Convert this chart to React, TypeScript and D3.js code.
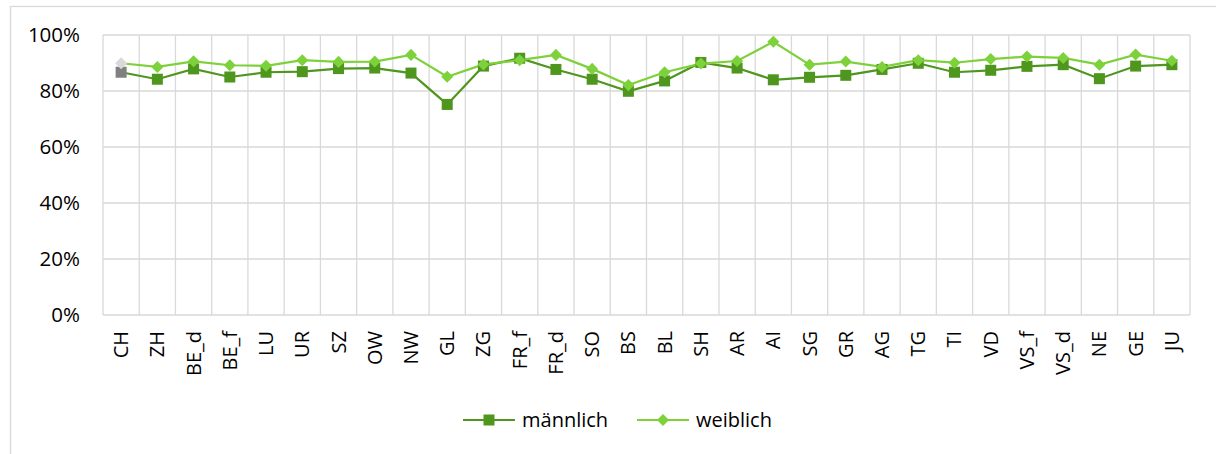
import React, { useEffect, useRef } from 'react';
import * as d3 from 'd3';

const cantons: string[] = [
    'CH', 'ZH', 'BE_d', 'BE_f', 'LU', 'UR', 'SZ', 'OW', 'NW', 'GL', 'ZG', 'FR_f', 'FR_d', 'SO', 'BS',
    'BL', 'SH', 'AR', 'AI', 'SG', 'GR', 'AG', 'TG', 'TI', 'VD', 'VS_f', 'VS_d', 'NE', 'GE', 'JU',
];

// share in %
const maennlich: number[] = [
    86.7, 84.2, 87.9, 85.0, 86.7, 86.9, 88.0, 88.2, 86.4, 75.2, 88.9, 91.7, 87.7, 84.2, 79.9,
    83.6, 90.2, 88.2, 84.0, 84.9, 85.6, 87.7, 89.9, 86.7, 87.4, 88.8, 89.4, 84.4, 88.9, 89.4,
];
const weiblich: number[] = [
    89.9, 88.6, 90.6, 89.2, 89.0, 91.0, 90.4, 90.5, 92.9, 85.1, 89.5, 91.0, 92.9, 87.9, 82.1,
    86.7, 89.8, 90.7, 97.6, 89.4, 90.5, 88.6, 91.0, 90.1, 91.4, 92.3, 91.8, 89.4, 93.0, 90.8,
];
const yTicks: number[] = [0, 20, 40, 60, 80, 100];

const W = 1216;
const H = 454;
const FONT = '"Open Sans", sans-serif';
const GRID = '#d9d9d9';
const MALE = '#4f961f';
const FEMALE = '#7dd13a';

const App: React.FC = () => {
    const svgRef = useRef<SVGSVGElement>(null);

    useEffect(() => {
        if (!svgRef.current) return;
        const svg = d3.select(svgRef.current);
        svg.selectAll('*').remove();

        const margin = { top: 35, right: 26, bottom: 139, left: 103 };
        const width = W - margin.left - margin.right;
        const height = H - margin.top - margin.bottom;

        // outer chart frame
        svg.append('rect')
            .attr('x', 10.5)
            .attr('y', 6.5)
            .attr('width', W + 20)
            .attr('height', H + 20)
            .attr('fill', 'none')
            .attr('stroke', GRID)
            .attr('stroke-width', 1.3);

        const g = svg.append('g').attr('transform', `translate(${margin.left}, ${margin.top})`);

        const x = d3.scaleBand<string>().domain(cantons).range([0, width]);
        const y = d3.scaleLinear().domain([0, 100]).range([height, 0]);
        const cx = (i: number) => (x(cantons[i]) as number) + x.bandwidth() / 2;

        // horizontal grid
        g.append('g')
            .selectAll('line')
            .data(yTicks)
            .enter()
            .append('line')
            .attr('x1', 0)
            .attr('x2', width)
            .attr('y1', (d: number) => y(d))
            .attr('y2', (d: number) => y(d))
            .attr('stroke', GRID)
            .attr('stroke-width', 1.3);

        // vertical grid at category boundaries
        const bounds = cantons.map((c) => x(c) as number).concat([width]);
        g.append('g')
            .selectAll('line')
            .data(bounds)
            .enter()
            .append('line')
            .attr('x1', (d: number) => d)
            .attr('x2', (d: number) => d)
            .attr('y1', 0)
            .attr('y2', height)
            .attr('stroke', GRID)
            .attr('stroke-width', 1.3);

        // y labels
        g.append('g')
            .selectAll('text')
            .data(yTicks)
            .enter()
            .append('text')
            .attr('x', -23)
            .attr('y', (d: number) => y(d))
            .attr('dy', '0.35em')
            .attr('text-anchor', 'end')
            .style('font-family', FONT)
            .style('font-size', '20.5px')
            .style('fill', '#000')
            .text((d: number) => `${d}%`);

        // x labels, rotated
        g.append('g')
            .selectAll('text')
            .data(cantons)
            .enter()
            .append('text')
            .attr('transform', (_d: string, i: number) => `translate(${cx(i) + 7}, ${height + 16}) rotate(-90)`)
            .attr('text-anchor', 'end')
            .style('font-family', FONT)
            .style('font-size', '20px')
            .style('fill', '#000')
            .text((d: string) => d);

        const line = d3.line<number>()
            .x((_d: number, i: number) => cx(i))
            .y((d: number) => y(d));

        g.append('path')
            .datum(maennlich)
            .attr('d', line)
            .attr('fill', 'none')
            .attr('stroke', MALE)
            .attr('stroke-width', 2.2);

        g.append('path')
            .datum(weiblich)
            .attr('d', line)
            .attr('fill', 'none')
            .attr('stroke', FEMALE)
            .attr('stroke-width', 2.2);

        const sq = 11;
        g.append('g')
            .selectAll('rect')
            .data(maennlich)
            .enter()
            .append('rect')
            .attr('x', (_d: number, i: number) => cx(i) - sq / 2)
            .attr('y', (d: number) => y(d) - sq / 2)
            .attr('width', sq)
            .attr('height', sq)
            .attr('fill', (_d: number, i: number) => (i === 0 ? '#808080' : MALE));

        const diamond = d3.symbol().type(d3.symbolDiamond2).size(92);
        g.append('g')
            .selectAll('path')
            .data(weiblich)
            .enter()
            .append('path')
            .attr('d', diamond as any)
            .attr('transform', (d: number, i: number) => `translate(${cx(i)}, ${y(d)})`)
            .attr('fill', (_d: number, i: number) => (i === 0 ? '#d9d9d9' : FEMALE));

        // legend
        const legend = svg.append('g').attr('transform', 'translate(0, 420)');
        const items = [
            { label: 'männlich', color: MALE, x0: 463, shape: 'square' },
            { label: 'weiblich', color: FEMALE, x0: 637, shape: 'diamond' },
        ];
        items.forEach((it) => {
            legend.append('line')
                .attr('x1', it.x0)
                .attr('x2', it.x0 + 52)
                .attr('y1', 0)
                .attr('y2', 0)
                .attr('stroke', it.color)
                .attr('stroke-width', 2.2);
            if (it.shape === 'square') {
                legend.append('rect')
                    .attr('x', it.x0 + 26 - sq / 2)
                    .attr('y', -sq / 2)
                    .attr('width', sq)
                    .attr('height', sq)
                    .attr('fill', it.color);
            } else {
                legend.append('path')
                    .attr('d', diamond as any)
                    .attr('transform', `translate(${it.x0 + 26}, 0)`)
                    .attr('fill', it.color);
            }
            legend.append('text')
                .attr('x', it.x0 + 59)
                .attr('y', 0)
                .attr('dy', '0.35em')
                .style('font-family', FONT)
                .style('font-size', '20px')
                .style('fill', '#000')
                .text(it.label);
        });
    }, []);

    return (
        <svg
            ref={svgRef}
            width={W}
            height={H}
            style={{ position: 'absolute', left: 0, top: 0, background: '#fff' }}
        />
    );
};

export default App;
